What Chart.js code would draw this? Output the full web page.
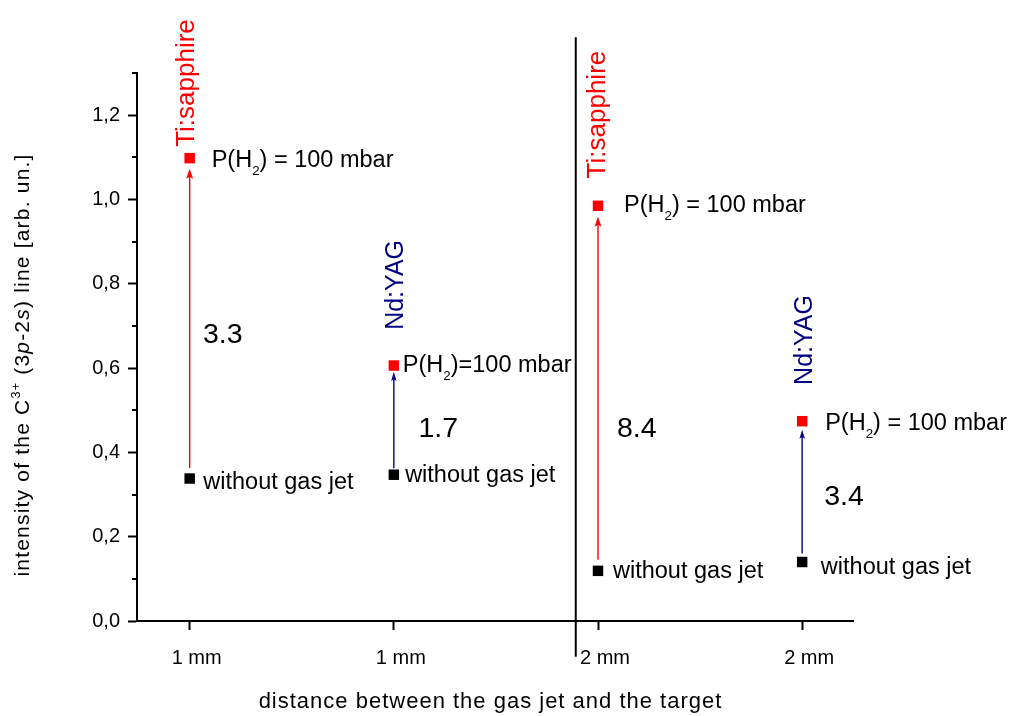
<!DOCTYPE html>
<html>
<head>
<meta charset="utf-8">
<script src="https://cdn.jsdelivr.net/npm/chart.js@4.4.1/dist/chart.umd.min.js"></script>
<style>
  html, body { margin: 0; padding: 0; background: #ffffff; }
  canvas { display: block; }
</style>
</head>
<body>
<canvas id="c" width="1014" height="716"></canvas>
<script>
// Target-to-gas-jet distance of each measurement pair (x tick labels)
const distanceLabels = ['1 mm', '1 mm', '2 mm', '2 mm'];
// Category positions on the x axis
const pairPositions = [1, 2, 3, 4];
// Laser used for each pair
const lasers = ['Ti:sapphire', 'Nd:YAG', 'Ti:sapphire', 'Nd:YAG'];
// Intensity of the C3+ (3p-2s) line, arb. units
const withoutGasJet = [0.338, 0.347, 0.119, 0.140];
const withGasJet = [1.098, 0.606, 0.985, 0.474];
// Enhancement factors written beside the arrows
const enhancementLabels = ['3.3', '1.7', '8.4', '3.4'];
// Point annotations
const pressureLabels = ['P(H₂) = 100 mbar', 'P(H₂)=100 mbar', 'P(H₂) = 100 mbar', 'P(H₂) = 100 mbar'];
const noJetLabel = 'without gas jet';
// y tick labels (decimal comma)
const yTickLabels = ['0,0', '0,2', '0,4', '0,6', '0,8', '1,0', '1,2'];
const xAxisTitle = 'distance between the gas jet and the target';

const FONT = '"Liberation Sans", Arial, Helvetica, sans-serif';
const RED = '#ff0000';
const NAVY = '#000080';
const laserColor = { 'Ti:sapphire': RED, 'Nd:YAG': NAVY };

// Pixel offsets of the annotations relative to their markers
const annot = {
  pressure: { dx: [22, 9, 26, 23], dy: [8.4, 6, 6, 8.7], size: 23.5 },
  noJet:    { dx: [13.6, 11.3, 15, 18.7], dy: [10.6, 7, 7.3, 12], size: 23.5 },
  laser:    { dx: [4.6, 9.6, 7, 9.4], dy: [-11.3, -35.7, -27.4, -36.3], size: [26, 25, 26, 25] },
  ratio:    { dx: [13.3, 24.6, 19, 22], yValue: [0.660, 0.437, 0.437, 0.275], size: 28.5 },
  arrowGap: [10.5, 6.5, 11, 8.5],
  divider:  { x: 2.891, yTop: 1.385, yBottom: -0.085 }
};

function drawSubscripted(ctx, text, x, y, size) {
  let cx = x;
  const parts = text.split(/(₂)/);
  for (const part of parts) {
    if (!part) continue;
    if (part === '₂') {
      ctx.font = `${size * 0.57}px ${FONT}`;
      ctx.fillText('2', cx, y + size * 0.36);
      cx += ctx.measureText('2').width;
    } else {
      ctx.font = `${size}px ${FONT}`;
      ctx.fillText(part, cx, y);
      cx += ctx.measureText(part).width;
    }
  }
}

function drawArrow(ctx, x, yFrom, yTip, color, headLen, headW) {
  ctx.save();
  ctx.strokeStyle = color;
  ctx.fillStyle = color;
  ctx.lineWidth = 1.4;
  ctx.beginPath();
  ctx.moveTo(x, yFrom);
  ctx.lineTo(x, yTip + headLen * 0.7);
  ctx.stroke();
  ctx.beginPath();
  ctx.moveTo(x, yTip);
  ctx.lineTo(x - headW / 2, yTip + headLen);
  ctx.lineTo(x, yTip + headLen * 0.8);
  ctx.lineTo(x + headW / 2, yTip + headLen);
  ctx.closePath();
  ctx.fill();
  ctx.restore();
}

const annotationsPlugin = {
  id: 'annotations',
  afterDraw(chart) {
    const ctx = chart.ctx;
    const xs = chart.scales.x;
    const ys = chart.scales.y;
    ctx.save();

    // minor y ticks
    ctx.strokeStyle = '#000';
    ctx.lineWidth = 2;
    for (let k = 1; k <= 13; k += 2) {
      const py = Math.round(ys.getPixelForValue(k / 10));
      ctx.beginPath();
      ctx.moveTo(xs.left - 5, py);
      ctx.lineTo(xs.left, py);
      ctx.stroke();
    }

    // divider between the 1 mm and 2 mm groups
    const dxp = xs.getPixelForValue(annot.divider.x);
    ctx.beginPath();
    ctx.moveTo(dxp, ys.getPixelForValue(annot.divider.yTop));
    ctx.lineTo(dxp, ys.getPixelForValue(annot.divider.yBottom));
    ctx.stroke();

    ctx.textBaseline = 'alphabetic';
    ctx.textAlign = 'left';

    pairPositions.forEach((pos, i) => {
      const px = xs.getPixelForValue(pos);
      const pyLow = ys.getPixelForValue(withoutGasJet[i]);
      const pyHigh = ys.getPixelForValue(withGasJet[i]);
      const color = laserColor[lasers[i]];
      const isTi = lasers[i] === 'Ti:sapphire';

      // enhancement arrow
      const gap = annot.arrowGap[i];
      drawArrow(ctx, px, pyLow - gap, pyHigh + gap, color, isTi ? 10 : 9, isTi ? 7 : 5.5);

      // laser name, vertical
      ctx.save();
      ctx.fillStyle = color;
      ctx.font = `${annot.laser.size[i]}px ${FONT}`;
      ctx.translate(px + annot.laser.dx[i], pyHigh + annot.laser.dy[i]);
      ctx.rotate(-Math.PI / 2);
      ctx.fillText(lasers[i], 0, 0);
      ctx.restore();

      ctx.fillStyle = '#000';
      // gas pressure label
      drawSubscripted(ctx, pressureLabels[i], px + annot.pressure.dx[i], pyHigh + annot.pressure.dy[i], annot.pressure.size);
      // no-jet label
      ctx.font = `${annot.noJet.size}px ${FONT}`;
      ctx.fillText(noJetLabel, px + annot.noJet.dx[i], pyLow + annot.noJet.dy[i]);
      // enhancement factor
      ctx.font = `${annot.ratio.size}px ${FONT}`;
      ctx.fillText(enhancementLabels[i], px + annot.ratio.dx[i], ys.getPixelForValue(annot.ratio.yValue[i]));
    });

    // x axis title
    ctx.fillStyle = '#000';
    ctx.font = `22px ${FONT}`;
    ctx.letterSpacing = '1px';
    ctx.textAlign = 'center';
    ctx.fillText(xAxisTitle, 490.5, 708);

    // y axis title with superscript and italics
    const yParts = [
      { t: 'intensity of the C' },
      { t: '3+', sup: true },
      { t: ' (3' },
      { t: 'p', it: true },
      { t: '-2' },
      { t: 's', it: true },
      { t: ') line [arb. un.]' }
    ];
    const fs = 21;
    ctx.letterSpacing = '1.2px';
    ctx.textAlign = 'left';
    const fontFor = p => p.sup ? `${fs * 0.6}px ${FONT}` : (p.it ? `italic ${fs}px ${FONT}` : `${fs}px ${FONT}`);
    let total = 0;
    yParts.forEach(p => { ctx.font = fontFor(p); total += ctx.measureText(p.t).width; });
    ctx.translate(29, 365);
    ctx.rotate(-Math.PI / 2);
    let cx = -total / 2;
    yParts.forEach(p => {
      ctx.font = fontFor(p);
      ctx.fillText(p.t, cx, p.sup ? -fs * 0.45 : 0);
      cx += ctx.measureText(p.t).width;
    });
    ctx.letterSpacing = '0px';
    ctx.restore();
  }
};

new Chart(document.getElementById('c'), {
  type: 'scatter',
  data: {
    datasets: [
      {
        label: 'without gas jet',
        data: withoutGasJet.map((v, i) => ({ x: pairPositions[i], y: v })),
        pointStyle: 'rect',
        pointRadius: 7.4,
        pointBorderWidth: 0,
        backgroundColor: '#000000',
        borderColor: '#000000'
      },
      {
        label: 'P(H₂) = 100 mbar',
        data: withGasJet.map((v, i) => ({ x: pairPositions[i], y: v })),
        pointStyle: 'rect',
        pointRadius: 7.4,
        pointBorderWidth: 0,
        backgroundColor: RED,
        borderColor: RED
      }
    ]
  },
  options: {
    responsive: false,
    animation: false,
    devicePixelRatio: 1,
    layout: { padding: { top: 73, right: 161, left: 0, bottom: 0 } },
    plugins: { legend: { display: false }, tooltip: { enabled: false } },
    scales: {
      x: {
        type: 'linear',
        position: 'bottom',
        min: 0.742,
        max: 4.249,
        afterFit: s => { s.height = 95; },
        afterBuildTicks: s => { s.ticks = pairPositions.map(v => ({ value: v })); },
        grid: { drawOnChartArea: false, drawTicks: true, tickLength: 9, tickWidth: 2, tickColor: '#000' },
        border: { display: true, color: '#000', width: 2 },
        ticks: {
          callback: (v, i) => distanceLabels[i],
          font: { family: FONT, size: 20 },
          color: '#000',
          padding: 16,
          labelOffset: 7,
          maxRotation: 0,
          autoSkip: false
        }
      },
      y: {
        type: 'linear',
        min: 0,
        max: 1.3,
        afterFit: s => { s.width = 137; },
        afterBuildTicks: s => { s.ticks = Array.from({ length: 14 }, (_, k) => ({ value: k / 10 })); },
        grid: {
          drawOnChartArea: false,
          drawTicks: true,
          tickLength: 9,
          tickWidth: 2,
          tickColor: c => (c.index % 2 === 0 ? '#000' : 'rgba(0,0,0,0)')
        },
        border: { display: true, color: '#000', width: 2 },
        ticks: {
          callback: (v, i) => (i % 2 === 0 ? yTickLabels[i / 2] : ''),
          font: { family: FONT, size: 20 },
          color: '#000',
          padding: 8,
          autoSkip: false
        }
      }
    }
  },
  plugins: [annotationsPlugin]
});
</script>
</body>
</html>
